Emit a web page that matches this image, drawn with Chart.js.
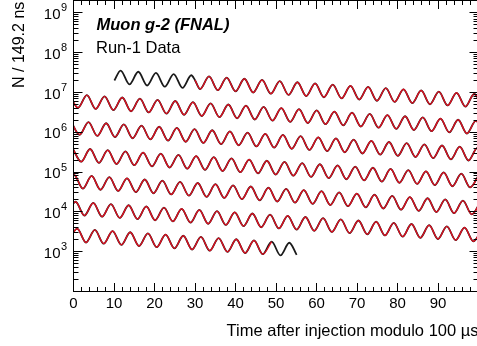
<!DOCTYPE html>
<html>
<head>
<meta charset="utf-8">
<title>Muon g-2 (FNAL) - Run-1</title>
<script src="https://cdn.jsdelivr.net/npm/chart.js@4.4.1/dist/chart.umd.min.js"></script>
<style>
    html, body { margin: 0; padding: 0; background: #fff; overflow: hidden; }
    canvas { display: block; }
</style>
</head>
<body>
<canvas id="graficoWiggle" width="480" height="346"></canvas>
<script>
// each row: [time after injection modulo 100 us, log10(N per 149.2 ns)] read at crests and troughs
var row1 = [[10.1,7.30],[11.63,7.552],[13.81,7.205],[16.00,7.522],[18.18,7.176],[20.36,7.493],[22.54,7.146],[24.73,7.464],[26.91,7.117],[29.09,7.434],[30.0,7.31],[31.27,7.087],[33.46,7.405],[35.64,7.058],[37.82,7.375],[40.00,7.029],[42.19,7.346],[44.37,6.999],[46.55,7.316],[48.73,6.970],[50.92,7.287],[53.10,6.940],[55.28,7.258],[57.46,6.911],[59.65,7.228],[61.83,6.881],[64.01,7.199],[66.19,6.852],[68.38,7.169],[70.56,6.823],[72.74,7.140],[74.92,6.793],[77.11,7.110],[79.29,6.764],[81.47,7.081],[83.65,6.734],[85.84,7.052],[88.02,6.705],[90.20,7.022],[92.38,6.675],[94.57,6.993],[96.75,6.646],[98.93,6.963],[101.11,6.616]];
var row2 = [[-1.07,6.963],[1.11,6.616],[3.30,6.934],[5.48,6.587],[7.66,6.904],[9.84,6.558],[12.03,6.875],[14.21,6.528],[16.39,6.845],[18.57,6.499],[20.76,6.816],[22.94,6.469],[25.12,6.787],[27.30,6.440],[29.49,6.757],[31.67,6.410],[33.85,6.728],[36.03,6.381],[38.22,6.698],[40.40,6.352],[42.58,6.669],[44.76,6.322],[46.95,6.639],[49.13,6.293],[51.31,6.610],[53.49,6.263],[55.68,6.580],[57.86,6.234],[60.04,6.551],[62.22,6.204],[64.41,6.522],[66.59,6.175],[68.77,6.492],[70.95,6.145],[73.14,6.463],[75.32,6.116],[77.50,6.433],[79.68,6.087],[81.87,6.404],[84.05,6.057],[86.23,6.374],[88.41,6.028],[90.60,6.345],[92.78,5.998],[94.96,6.316],[97.14,5.969],[99.33,6.286],[101.51,5.939]];
var row3 = [[-0.68,6.286],[1.51,5.939],[3.69,6.257],[5.87,5.910],[8.06,6.227],[10.24,5.880],[12.42,6.198],[14.60,5.851],[16.79,6.168],[18.97,5.822],[21.15,6.139],[23.33,5.792],[25.52,6.109],[27.70,5.763],[29.88,6.080],[32.06,5.733],[34.25,6.051],[36.43,5.704],[38.61,6.021],[40.79,5.674],[42.98,5.992],[45.16,5.645],[47.34,5.962],[49.52,5.616],[51.71,5.933],[53.89,5.586],[56.07,5.903],[58.25,5.557],[60.44,5.874],[62.62,5.527],[64.80,5.845],[66.98,5.498],[69.17,5.815],[71.35,5.468],[73.53,5.786],[75.71,5.439],[77.90,5.756],[80.08,5.409],[82.26,5.727],[84.44,5.380],[86.63,5.697],[88.81,5.351],[90.99,5.668],[93.17,5.321],[95.36,5.638],[97.54,5.292],[99.72,5.609],[101.90,5.262]];
var row4 = [[-0.28,5.609],[1.90,5.262],[4.09,5.580],[6.27,5.233],[8.45,5.550],[10.63,5.203],[12.82,5.521],[15.00,5.174],[17.18,5.491],[19.36,5.145],[21.55,5.462],[23.73,5.115],[25.91,5.432],[28.09,5.086],[30.28,5.403],[32.46,5.056],[34.64,5.374],[36.82,5.027],[39.01,5.344],[41.19,4.997],[43.37,5.315],[45.55,4.968],[47.74,5.285],[49.92,4.938],[52.10,5.256],[54.28,4.909],[56.47,5.226],[58.65,4.880],[60.83,5.197],[63.01,4.850],[65.20,5.167],[67.38,4.821],[69.56,5.138],[71.74,4.791],[73.93,5.109],[76.11,4.762],[78.29,5.079],[80.47,4.732],[82.66,5.050],[84.84,4.703],[87.02,5.020],[89.20,4.674],[91.39,4.991],[93.57,4.644],[95.75,4.961],[97.93,4.615],[100.12,4.932]];
var row5 = [[-2.07,4.615],[0.12,4.932],[2.30,4.585],[4.48,4.903],[6.66,4.556],[8.85,4.873],[11.03,4.526],[13.21,4.844],[15.39,4.497],[17.58,4.814],[19.76,4.467],[21.94,4.785],[24.12,4.438],[26.31,4.755],[28.49,4.409],[30.67,4.726],[32.85,4.379],[35.04,4.696],[37.22,4.350],[39.40,4.667],[41.58,4.320],[43.77,4.638],[45.95,4.291],[48.13,4.608],[50.31,4.261],[52.50,4.579],[54.68,4.232],[56.86,4.549],[59.04,4.203],[61.23,4.520],[63.41,4.173],[65.59,4.490],[67.77,4.144],[69.96,4.461],[72.14,4.114],[74.32,4.432],[76.50,4.085],[78.69,4.402],[80.87,4.055],[83.05,4.373],[85.23,4.026],[87.42,4.343],[89.60,3.996],[91.78,4.314],[93.96,3.967],[96.15,4.284],[98.33,3.938],[100.51,4.255]];
var row6 = [[-1.67,3.938],[0.51,4.255],[2.69,3.908],[4.88,4.225],[7.06,3.879],[9.24,4.196],[11.42,3.849],[13.61,4.167],[15.79,3.820],[17.97,4.137],[20.15,3.790],[22.34,4.108],[24.52,3.761],[26.70,4.078],[28.88,3.732],[31.07,4.049],[33.25,3.702],[35.43,4.019],[37.61,3.673],[39.80,3.990],[41.98,3.643],[44.16,3.960],[46.34,3.614],[48.53,3.931],[50.71,3.584],[52.89,3.902],[55.07,3.555],[57.26,3.872],[59.44,3.525],[61.62,3.843],[63.80,3.496],[65.99,3.813],[68.17,3.467],[70.35,3.784],[72.53,3.437],[74.72,3.754],[76.90,3.408],[79.08,3.725],[81.26,3.378],[83.45,3.696],[85.63,3.349],[87.81,3.666],[89.99,3.319],[92.18,3.637],[94.36,3.290],[96.54,3.607],[98.72,3.261],[100.91,3.578]];
var row7 = [[-1.28,3.261],[0.91,3.578],[3.09,3.231],[5.27,3.548],[7.45,3.202],[9.64,3.519],[11.82,3.172],[14.00,3.489],[16.18,3.143],[18.37,3.460],[20.55,3.113],[22.73,3.431],[24.91,3.084],[27.10,3.401],[29.28,3.054],[31.46,3.372],[33.64,3.025],[35.83,3.342],[38.01,2.996],[40.19,3.313],[42.37,2.966],[44.56,3.283],[46.74,2.937],[48.92,3.254],[51.10,2.907],[53.29,3.225],[55.1,2.92]];

var rows = [row1, row2, row3, row4, row5, row6, row7];

// time window of the red fit curve on each row
var fitWindow = [[30, 102], [-3, 102], [-3, 102], [-3, 102], [-3, 102], [-3, 102], [-3, 48.92]];

var xTickLabels = ["0", "10", "20", "30", "40", "50", "60", "70", "80", "90"];
var yDecades = [3, 4, 5, 6, 7, 8, 9];

var fonte = "'Liberation Sans', Arial, Helvetica, sans-serif";

const paraPontos = function (row) {
    return row.map(p => ({ x: p[0], y: Math.pow(10, p[1]) }));
}

var datasets = [];
rows.forEach(function (row, i) {
    const janela = fitWindow[i];
    datasets.push({
        label: 'Data row ' + (i + 1),
        data: paraPontos(row),
        borderColor: '#1a1a1a',
        borderWidth: 1.8,
        order: 1
    });
    datasets.push({
        label: 'Fit row ' + (i + 1),
        data: paraPontos(row.filter(p => p[0] >= janela[0] && p[0] <= janela[1])),
        borderColor: '#dc1020',
        borderWidth: 1.4,
        order: 0
    });
});

const eixos = {
    id: 'eixos',
    afterDatasetsDraw(chart) {
        const ctx = chart.ctx;
        const a = chart.chartArea;
        const x = chart.scales.x;
        const y = chart.scales.y;
        const snap = v => Math.round(v - 0.5) + 0.5;

        ctx.save();
        ctx.strokeStyle = '#000';
        ctx.lineWidth = 1;
        ctx.strokeRect(a.left, a.top, a.right - a.left, a.bottom - a.top);

        ctx.beginPath();
        for (let v = 0; v <= 100; v += 2) {
            const px = snap(x.getPixelForValue(v));
            const len = v % 10 === 0 ? 8.5 : 4.5;
            ctx.moveTo(px, a.bottom); ctx.lineTo(px, a.bottom - len);
            ctx.moveTo(px, a.top); ctx.lineTo(px, a.top + len);
        }
        for (let d = 2; d <= 9; d++) {
            for (let m = 1; m <= 9; m++) {
                const v = m * Math.pow(10, d);
                if (v > y.max) break;
                const py = snap(y.getPixelForValue(v));
                const len = m === 1 ? 9 : 5;
                ctx.moveTo(a.left, py); ctx.lineTo(a.left + len, py);
                ctx.moveTo(a.right, py); ctx.lineTo(a.right - len, py);
            }
        }
        ctx.stroke();
        ctx.restore();
    },
    afterDraw(chart) {
        const ctx = chart.ctx;
        const x = chart.scales.x;
        const y = chart.scales.y;

        ctx.save();
        ctx.fillStyle = '#000';
        ctx.textBaseline = 'alphabetic';

        // x tick labels
        ctx.font = '15px ' + fonte;
        ctx.textAlign = 'center';
        xTickLabels.forEach(function (t) {
            ctx.fillText(t, x.getPixelForValue(Number(t)), 308);
        });

        // y tick labels 10^n
        yDecades.forEach(function (n) {
            const py = y.getPixelForValue(Math.pow(10, n));
            ctx.font = '15px ' + fonte;
            ctx.textAlign = 'right';
            ctx.fillText('10', 60.5, py + 6);
            ctx.font = '11px ' + fonte;
            ctx.textAlign = 'left';
            ctx.fillText(String(n), 61, py - 1.5);
        });

        // axis titles
        ctx.font = '16.5px ' + fonte;
        ctx.textAlign = 'right';
        ctx.fillText('Time after injection modulo 100 \u00b5s', 478.5, 336);

        ctx.save();
        ctx.translate(24, 1.7);
        ctx.rotate(-Math.PI / 2);
        ctx.font = '16px ' + fonte;
        ctx.textAlign = 'right';
        ctx.fillText('N / 149.2 ns', 0, 0);
        ctx.restore();

        // labels
        ctx.textAlign = 'left';
        ctx.font = 'italic bold 16.5px ' + fonte;
        ctx.fillText('Muon g-2 (FNAL)', 96.5, 29.5);
        ctx.font = '16.5px ' + fonte;
        ctx.fillText('Run-1 Data', 96, 53);

        ctx.restore();
    }
};

const ctx = document.getElementById('graficoWiggle').getContext('2d');
var graficoWiggle = new Chart(ctx, {
    type: 'line',
    data: { datasets: datasets },
    options: {
        responsive: false,
        animation: false,
        layout: { padding: { left: 73.5, right: 1.5, top: 0.5, bottom: 54.5 } },
        scales: {
            x: { type: 'linear', display: false, min: 0, max: 100 },
            y: { type: 'logarithmic', display: false, min: 100, max: 2.05e9 }
        },
        elements: {
            point: { radius: 0 },
            line: { cubicInterpolationMode: 'monotone', fill: false }
        },
        datasets: { line: { clip: 0 } },
        plugins: {
            legend: { display: false },
            tooltip: { enabled: false }
        }
    },
    plugins: [eixos]
});
</script>
</body>
</html>
